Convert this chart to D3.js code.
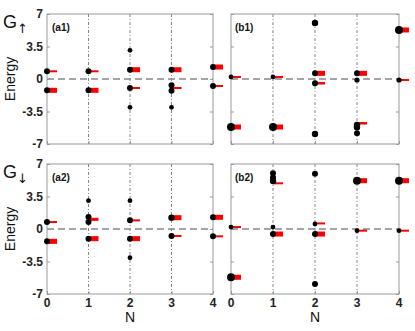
<!DOCTYPE html>
<html>
<head>
<meta charset="utf-8">
<script src="https://cdn.jsdelivr.net/npm/d3@7"></script>
<style>
  body { margin: 0; background: #fff; }
  text { font-family: Arial, "Liberation Sans", sans-serif; }
</style>
</head>
<body>
<script>
// energy levels per N: [N, energy, weight]
const a1Dots = [[0,0.83,0.75],[0,-1.22,0.75],[1,0.83,0.75],[1,-1.22,0.75],
  [2,3.09,0.6],[2,1.0,0.75],[2,-0.97,0.75],[2,-3.05,0.6],
  [3,1.0,0.75],[3,-0.68,0.75],[3,-1.26,0.75],[3,-3.05,0.6],
  [4,1.29,0.75],[4,-0.75,0.75]];
const a1Bars = [[0,0.83,0.4],[0,-1.22,1],[1,0.83,0.4],[1,-1.22,1],[2,1.0,1],[2,-0.97,0.4],
  [3,1.0,1],[3,-0.97,0.4],[4,1.29,1],[4,-0.75,0.4]];

const b1Dots = [[0,0.22,0.6],[0,-5.17,1],[1,0.22,0.6],[1,-5.17,1],
  [2,6.03,0.8],[2,0.61,0.75],[2,-0.46,0.75],[2,-5.92,0.8],
  [3,0.61,0.75],[3,-0.11,0.65],[3,-4.95,0.8],[3,-5.2,0.8],[3,-5.85,0.75],
  [4,5.28,1],[4,-0.11,0.65]];
const b1Bars = [[0,0.22,0.4],[0,-5.17,1],[1,0.22,0.4],[1,-5.17,1],[2,0.61,1],[2,-0.46,0.5],
  [3,0.61,1],[3,-4.77,0.5],[4,5.28,1],[4,-0.11,0.4]];

const a2Dots = [[0,0.75,0.75],[0,-1.33,0.75],[1,3.05,0.6],[1,1.29,0.75],[1,0.75,0.75],[1,-1.04,0.75],
  [2,3.05,0.6],[2,0.93,0.75],[2,-1.04,0.75],[2,-3.09,0.6],
  [3,1.22,0.8],[3,-0.75,0.75],[4,1.26,0.75],[4,-0.79,0.75]];
const a2Bars = [[0,0.75,0.4],[0,-1.33,1],[1,1.04,0.6],[1,-1.04,1],[2,0.93,0.4],[2,-1.04,1],
  [3,1.22,1],[3,-0.75,0.4],[4,1.26,1],[4,-0.79,0.4]];

const b2Dots = [[0,0.21,0.6],[0,-5.2,1],[1,6.0,0.75],[1,5.55,0.75],[1,5.17,0.8],[1,0.21,0.6],[1,-0.54,0.75],
  [2,5.96,0.75],[2,0.54,0.6],[2,-0.54,0.75],[2,-5.92,0.75],
  [3,5.2,1],[3,-0.18,0.6],[4,5.2,1],[4,-0.18,0.6]];
const b2Bars = [[0,0.21,0.4],[0,-5.2,1],[1,4.92,0.4],[1,-0.54,1],[2,0.6,0.4],[2,-0.54,1],
  [3,5.2,1],[3,-0.18,0.4],[4,5.2,1],[4,-0.18,0.4]];

const nValues = [0,1,2,3,4];
const yTicks = [-7,-3.5,0,3.5,7];

const width = 415, height = 331;
const cols = [[47,213],[231,399]];
const rows = [[14,144],[164,294]];

const svg = d3.select('body').append('svg')
  .attr('width', width).attr('height', height);

const rScale = d3.scaleLinear().domain([0,1]).range([0,4]);
const thick = d3.scaleLinear().domain([0,1]).range([0,5]);

const panels = [
  {dots:a1Dots, bars:a1Bars, col:0, row:0, label:'(a1)'},
  {dots:b1Dots, bars:b1Bars, col:1, row:0, label:'(b1)'},
  {dots:a2Dots, bars:a2Bars, col:0, row:1, label:'(a2)'},
  {dots:b2Dots, bars:b2Bars, col:1, row:1, label:'(b2)'}
];

panels.forEach(function(p){
  const x = d3.scaleLinear().domain([0,4]).range(cols[p.col]);
  const y = d3.scaleLinear().domain([-7,7]).range([rows[p.row][1], rows[p.row][0]]);
  const g = svg.append('g');

  // vertical dash-dot guides
  g.selectAll('.vl').data([1,2,3]).join('line')
    .attr('x1', d => x(d)).attr('x2', d => x(d))
    .attr('y1', y(7)).attr('y2', y(-7))
    .attr('stroke', '#666').attr('stroke-width', 0.8)
    .attr('stroke-dasharray', '3,2,1,2');

  // zero line
  g.append('line')
    .attr('x1', x(0)).attr('x2', x(4))
    .attr('y1', y(0)).attr('y2', y(0))
    .attr('stroke', '#888').attr('stroke-width', 1.3)
    .attr('stroke-dasharray', '7,4');

  // frame
  g.append('rect')
    .attr('x', x(0)).attr('y', y(7))
    .attr('width', x(4)-x(0)).attr('height', y(-7)-y(7))
    .attr('fill', 'none').attr('stroke', '#999').attr('stroke-width', 1);

  // inner ticks
  const yAxisL = d3.axisRight(y).tickValues(yTicks).tickSize(3).tickFormat('');
  const yAxisR = d3.axisLeft(y).tickValues(yTicks).tickSize(3).tickFormat('');
  const xAxisB = d3.axisTop(x).tickValues(nValues).tickSize(3).tickFormat('');
  [[yAxisL, `translate(${x(0)},0)`], [yAxisR, `translate(${x(4)},0)`], [xAxisB, `translate(0,${y(-7)})`]]
    .forEach(function(a){
      const ag = g.append('g').attr('transform', a[1]).call(a[0]);
      ag.select('.domain').remove();
      ag.selectAll('line').attr('stroke', '#999');
    });

  if (p.col === 0) {
    g.selectAll('.yl').data(yTicks).join('text')
      .attr('x', x(0) - 4).attr('y', d => y(d) + 4)
      .attr('text-anchor', 'end')
      .attr('font-size', 12).attr('font-weight', 'bold').attr('fill', '#222')
      .text(d => d);
  }
  if (p.row === 1) {
    g.selectAll('.xl').data(nValues).join('text')
      .attr('x', d => x(d)).attr('y', y(-7) + 13)
      .attr('text-anchor', 'middle')
      .attr('font-size', 12).attr('font-weight', 'bold').attr('fill', '#222')
      .text(d => d);
    g.append('text')
      .attr('x', x(2)).attr('y', y(-7) + 28)
      .attr('text-anchor', 'middle')
      .attr('font-size', 14).attr('fill', '#111')
      .text('N');
  }

  // red weight bars
  g.selectAll('.bar').data(p.bars).join('rect')
    .attr('x', d => x(d[0]))
    .attr('y', d => y(d[1]) - thick(d[2]) / 2)
    .attr('width', 10)
    .attr('height', d => thick(d[2]))
    .attr('fill', '#f00');

  // black levels
  g.selectAll('.dot').data(p.dots).join('circle')
    .attr('cx', d => x(d[0]))
    .attr('cy', d => y(d[1]))
    .attr('r', d => rScale(d[2]))
    .attr('fill', '#000');

  g.append('text')
    .attr('x', x(0) + (p.col === 0 ? 5 : 4)).attr('y', y(7) + 17)
    .attr('font-size', 10).attr('font-weight', 'bold').attr('fill', '#111')
    .text(p.label);

  if (p.col === 0) {
    g.append('text')
      .attr('transform', `translate(15,${y(0)}) rotate(-90)`)
      .attr('text-anchor', 'middle')
      .attr('font-size', 14).attr('fill', '#111')
      .text('Energy');
    const lab = g.append('text')
      .attr('x', 3).attr('y', y(7) + 14)
      .attr('font-size', 18).attr('fill', '#111');
    lab.append('tspan').text('G');
    lab.append('tspan').attr('font-size', 13).attr('dy', 5)
      .style('font-family', '"DejaVu Sans", sans-serif')
      .text(p.row === 0 ? '\u2191' : '\u2193');
  }
});
</script>
</body>
</html>
